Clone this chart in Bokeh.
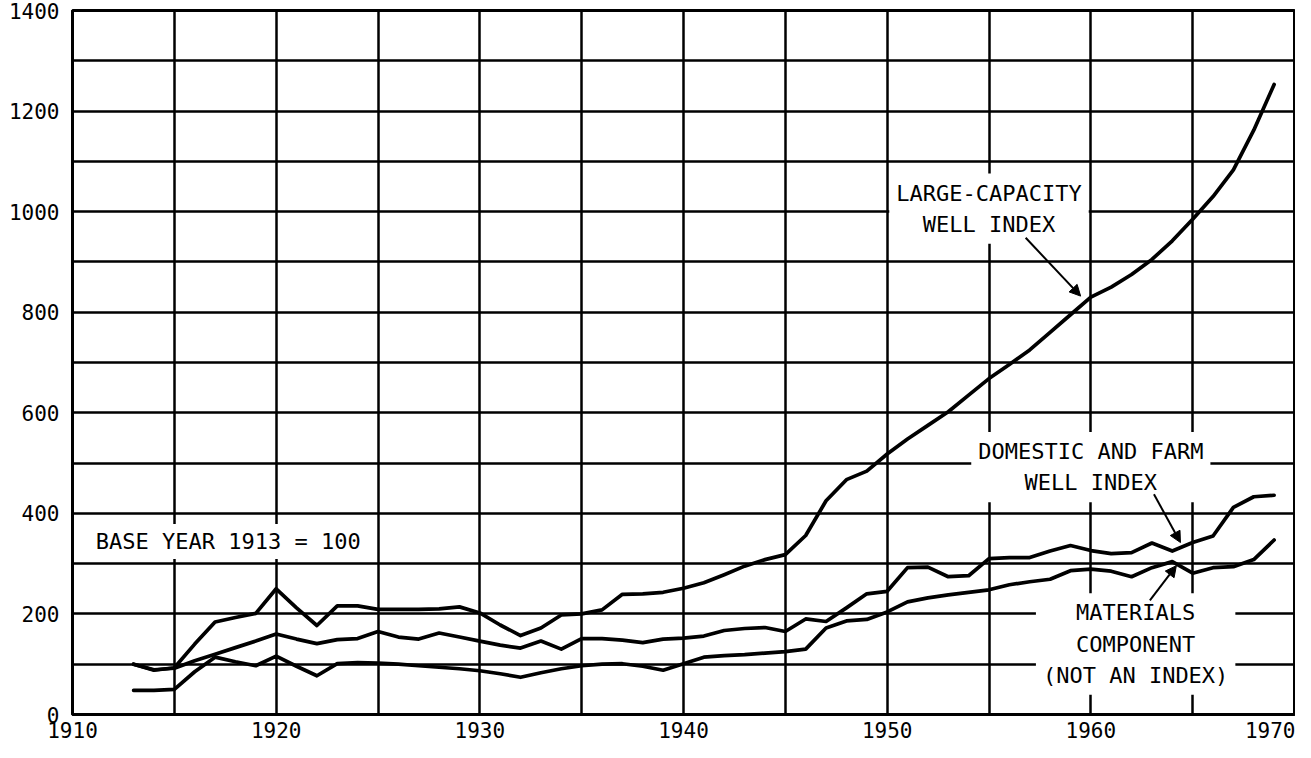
from bokeh.plotting import figure
from bokeh.models import FixedTicker, Label, Arrow, NormalHead, Range1d
from bokeh.embed import file_html
from bokeh.resources import INLINE

# ---------------- data ----------------
years = list(range(1913, 1970))

large_capacity = [100, 88, 93, 140, 184, 193, 201, 250, 212, 177,
                  216, 216, 209, 209, 209, 210, 214, 202, 178, 157,
                  172, 198, 200, 208, 239, 240, 243, 251, 262, 278,
                  295, 308, 318, 356, 425, 467, 484, 518, 548, 575,
                  602, 635, 668, 696, 725, 760, 795, 830, 850, 875,
                  905, 942, 985, 1030, 1083, 1162, 1253]

domestic_farm = [100, 89, 92, 107, 120, 133, 146, 160, 150, 141,
                 149, 151, 165, 154, 150, 162, 154, 146, 138, 132,
                 146, 130, 151, 151, 148, 143, 150, 152, 156, 167,
                 171, 173, 165, 190, 185, 212, 240, 245, 292, 293,
                 274, 276, 310, 312, 312, 325, 336, 326, 320, 322,
                 341, 325, 342, 355, 412, 433, 436]

materials = [48, 48, 50, 85, 114, 105, 97, 116, 96, 77,
             101, 103, 102, 100, 97, 94, 91, 87, 81, 74,
             83, 91, 97, 100, 101, 96, 88, 101, 114, 117,
             119, 122, 125, 130, 172, 186, 189, 204, 224, 232,
             238, 243, 248, 258, 264, 269, 286, 289, 285, 274,
             292, 304, 281, 292, 294, 308, 347]

x_tick_labels = [1910, 1920, 1930, 1940, 1950, 1960, 1970]
x_minor_ticks = [1915, 1925, 1935, 1945, 1955, 1965]
y_tick_labels = [0, 200, 400, 600, 800, 1000, 1200, 1400]
y_minor_ticks = [100, 300, 500, 700, 900, 1100, 1300]

FONT = "DejaVu Sans Mono"

p = figure(width=1295, height=742,
           x_range=Range1d(1910, 1970), y_range=Range1d(0, 1400),
           output_backend="svg", toolbar_location=None,
           min_border_left=72, min_border_right=1,
           min_border_top=10, min_border_bottom=28)

p.background_fill_color = "white"
p.border_fill_color = "white"
p.outline_line_color = "black"
p.outline_line_width = 3

# axes
p.xaxis.ticker = FixedTicker(ticks=x_tick_labels, minor_ticks=x_minor_ticks)
p.yaxis.ticker = FixedTicker(ticks=y_tick_labels, minor_ticks=y_minor_ticks)
for ax in (p.xaxis[0], p.yaxis[0]):
    ax.axis_line_color = "black"
    ax.axis_line_width = 3
    ax.major_tick_line_color = None
    ax.minor_tick_line_color = None
    ax.major_tick_out = 0
    ax.major_tick_in = 0
    ax.major_label_text_font = FONT
    ax.major_label_text_font_size = "21px"
    ax.major_label_text_color = "black"
    ax.major_label_text_line_height = 1.0
p.xaxis.major_label_standoff = 3
p.yaxis.major_label_standoff = 9

# grids (every 5 years, every 100 units)
for g in (p.xgrid[0], p.ygrid[0]):
    g.grid_line_color = "black"
    g.grid_line_width = 2.5
    g.grid_line_alpha = 1.0
    g.minor_grid_line_color = "black"
    g.minor_grid_line_width = 2.5
    g.minor_grid_line_alpha = 1.0

# series
for series in (large_capacity, domestic_farm, materials):
    p.line(years, series, line_color="black", line_width=3.7,
           line_join="round", line_cap="round")

# annotations
def add_label(x, y, text, align="center", pad=7):
    p.add_layout(Label(x=x, y=y, text=text, text_align=align,
                       text_baseline="middle", text_font=FONT,
                       text_font_size="22px", text_color="black",
                       text_line_height=1.25,
                       background_fill_color="white", padding=pad))

add_label(1955.0, 1006, "LARGE-CAPACITY\nWELL INDEX")
add_label(1960.0, 492, "DOMESTIC AND FARM\nWELL INDEX")
add_label(1962.2, 140, "MATERIALS\nCOMPONENT\n(NOT AN INDEX)")
add_label(1910.9, 344, "BASE YEAR 1913 = 100", align="left", pad=5)

def add_arrow(x0, y0, x1, y1):
    p.add_layout(Arrow(end=NormalHead(size=11, fill_color="black",
                                      line_color="black"),
                       x_start=x0, y_start=y0, x_end=x1, y_end=y1,
                       line_color="black", line_width=2))

add_arrow(1956.8, 948, 1959.5, 832)
add_arrow(1963.1, 438, 1964.4, 342)
add_arrow(1962.9, 227, 1964.2, 296)

open("out.html", "w").write(file_html(p, INLINE))
